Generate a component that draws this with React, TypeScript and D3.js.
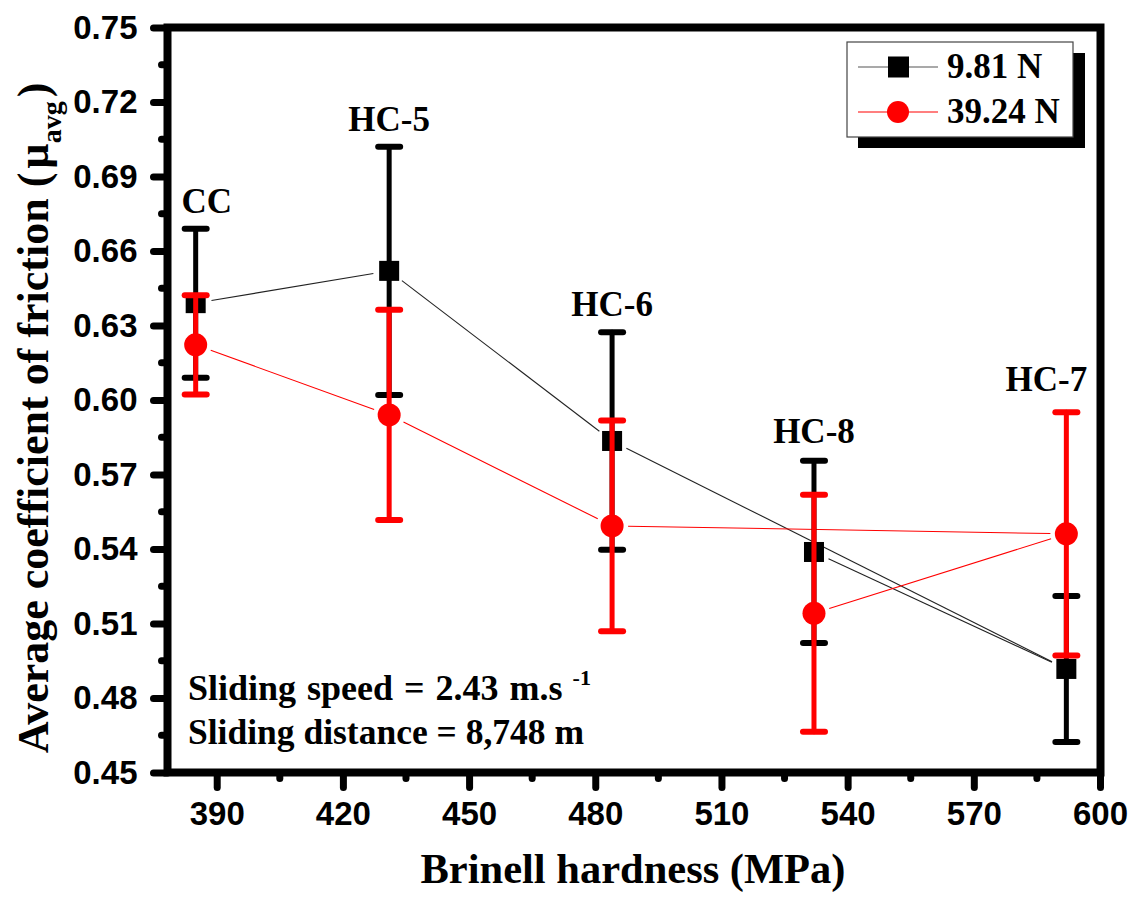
import React, { useEffect, useRef } from 'react';
import * as d3 from 'd3';

// sample order as in the source worksheet (lines follow this order)
const samples = ['CC', 'HC-5', 'HC-6', 'HC-7', 'HC-8'];
const hardness = [385, 431, 484, 592, 532];

// 9.81 N
const cofLow = [0.639, 0.652, 0.5835, 0.4917, 0.5388];
const errLow = [0.03, 0.05, 0.0438, 0.0294, 0.0367];

// 39.24 N
const cofHigh = [0.6222, 0.594, 0.5493, 0.5461, 0.5141];
const errHigh = [0.02, 0.0423, 0.0424, 0.049, 0.0477];

const yTicks = [0.45, 0.48, 0.51, 0.54, 0.57, 0.6, 0.63, 0.66, 0.69, 0.72, 0.75];
const yMinor = [0.465, 0.495, 0.525, 0.555, 0.585, 0.615, 0.645, 0.675, 0.705, 0.735];
const xTicks = [390, 420, 450, 480, 510, 540, 570, 600];
const xMinor = [405, 435, 465, 495, 525, 555, 585];

const legendLabels = ['9.81 N', '39.24 N'];

const SERIF = '"Liberation Serif", "Times New Roman", serif';
const SANS = '"Liberation Sans", Arial, sans-serif';

export default function App() {
  const ref = useRef<SVGSVGElement | null>(null);

  useEffect(() => {
    const svg = d3.select(ref.current);
    svg.selectAll('*').remove();

    const left = 167.5;
    const right = 1100.5;
    const top = 27.5;
    const bottom = 772.5;

    const x = d3.scaleLinear().domain([378.3, 600]).range([left, 1100]);
    const y = d3.scaleLinear().domain([0.45, 0.75]).range([bottom, top]);

    // axes
    const yAxis = svg
      .append('g')
      .attr('transform', `translate(${left},0)`)
      .call(d3.axisLeft(y).tickValues(yTicks).tickSize(14).tickPadding(16).tickFormat(d3.format('.2f')));
    yAxis.select('.domain').remove();
    yAxis.selectAll('line').attr('stroke-width', 7).attr('stroke-linecap', 'round');
    yAxis.selectAll('text').style('font-family', SANS).style('font-size', '33px').style('font-weight', 'bold').attr('fill', '#000');
    svg
      .append('g')
      .selectAll('line')
      .data(yMinor)
      .enter()
      .append('line')
      .attr('x1', left)
      .attr('x2', left - 6)
      .attr('y1', (d) => y(d))
      .attr('y2', (d) => y(d))
      .attr('stroke', '#000')
      .attr('stroke-width', 7)
      .attr('stroke-linecap', 'round');

    const xAxis = svg
      .append('g')
      .attr('transform', `translate(0,${bottom})`)
      .call(d3.axisBottom(x).tickValues(xTicks).tickSize(15).tickPadding(14).tickFormat(d3.format('d')));
    xAxis.select('.domain').remove();
    xAxis.selectAll('line').attr('stroke-width', 7).attr('stroke-linecap', 'round');
    xAxis.selectAll('text').style('font-family', SANS).style('font-size', '33px').style('font-weight', 'bold').attr('fill', '#000');
    svg
      .append('g')
      .selectAll('line')
      .data(xMinor)
      .enter()
      .append('line')
      .attr('x1', (d) => x(d))
      .attr('x2', (d) => x(d))
      .attr('y1', bottom)
      .attr('y2', bottom + 6)
      .attr('stroke', '#000')
      .attr('stroke-width', 7)
      .attr('stroke-linecap', 'round');

    // connecting lines with a gap around markers
    const gap = 16;
    const drawLine = (vals: number[], color: string) => {
      const pts = vals.map((v, i) => [x(hardness[i]), y(v)]);
      const segs = d3.pairs(pts);
      svg
        .append('g')
        .selectAll('line')
        .data(segs)
        .enter()
        .append('line')
        .each(function ([a, b]) {
          const dx = b[0] - a[0];
          const dy = b[1] - a[1];
          const len = Math.hypot(dx, dy);
          const ux = dx / len;
          const uy = dy / len;
          d3.select(this)
            .attr('x1', a[0] + ux * gap)
            .attr('y1', a[1] + uy * gap)
            .attr('x2', b[0] - ux * gap)
            .attr('y2', b[1] - uy * gap);
        })
        .attr('stroke', color)
        .attr('stroke-width', 1.1);
    };
    drawLine(cofLow, '#222');
    drawLine(cofHigh, '#ff0000');

    const drawErr = (vals: number[], errs: number[], color: string) => {
      const g = svg.append('g').attr('stroke', color).attr('stroke-linecap', 'round');
      vals.forEach((v, i) => {
        const cx = x(hardness[i]);
        g.append('line')
          .attr('x1', cx)
          .attr('x2', cx)
          .attr('y1', y(v + errs[i]))
          .attr('y2', y(v - errs[i]))
          .attr('stroke-width', 5);
        [v + errs[i], v - errs[i]].forEach((e) => {
          g.append('line')
            .attr('x1', cx - 11)
            .attr('x2', cx + 11)
            .attr('y1', y(e))
            .attr('y2', y(e))
            .attr('stroke-width', 6);
        });
      });
    };

    // 9.81 N
    drawErr(cofLow, errLow, '#000');
    svg
      .append('g')
      .selectAll('rect')
      .data(cofLow)
      .enter()
      .append('rect')
      .attr('x', (d, i) => x(hardness[i]) - 10)
      .attr('y', (d) => y(d) - 10)
      .attr('width', 20)
      .attr('height', 20)
      .attr('fill', '#000');

    // 39.24 N
    drawErr(cofHigh, errHigh, '#ff0000');
    svg
      .append('g')
      .selectAll('circle')
      .data(cofHigh)
      .enter()
      .append('circle')
      .attr('cx', (d, i) => x(hardness[i]))
      .attr('cy', (d) => y(d))
      .attr('r', 11.5)
      .attr('fill', '#ff0000');

    // sample labels (nudged the way they sit in the original)
    const nudge: Record<string, [number, number]> = { CC: [11, 0], 'HC-7': [-20, -5], 'HC-8': [0, -2] };
    svg
      .append('g')
      .selectAll('text')
      .data(samples)
      .enter()
      .append('text')
      .attr('x', (d, i) => x(hardness[i]) + (nudge[d] ? nudge[d][0] : 0))
      .attr('y', (d, i) => y(Math.max(cofLow[i] + errLow[i], cofHigh[i] + errHigh[i])) - 16 + (nudge[d] ? nudge[d][1] : 0))
      .attr('text-anchor', 'middle')
      .style('font-family', SERIF)
      .style('font-weight', 'bold')
      .style('font-size', '35px')
      .text((d) => d);

    // frame
    svg
      .append('rect')
      .attr('x', left)
      .attr('y', top)
      .attr('width', right - left)
      .attr('height', bottom - top)
      .attr('fill', 'none')
      .attr('stroke', '#000')
      .attr('stroke-width', 8);

    // legend
    const lg = svg.append('g');
    lg.append('rect').attr('x', 858).attr('y', 53).attr('width', 227).attr('height', 95).attr('fill', '#000');
    lg.append('rect')
      .attr('x', 847)
      .attr('y', 42)
      .attr('width', 226)
      .attr('height', 95)
      .attr('fill', '#fff')
      .attr('stroke', '#444')
      .attr('stroke-width', 1.2);
    legendLabels.forEach((label, i) => {
      const ly = 67 + i * 45;
      const color = i === 0 ? '#000' : '#ff0000';
      lg.append('line')
        .attr('x1', 858)
        .attr('x2', 938)
        .attr('y1', ly)
        .attr('y2', ly)
        .attr('stroke', i === 0 ? '#555' : '#ff0000')
        .attr('stroke-width', 1.1);
      if (i === 0) {
        lg.append('rect').attr('x', 888).attr('y', ly - 10.5).attr('width', 21).attr('height', 21).attr('fill', color);
      } else {
        lg.append('circle').attr('cx', 898).attr('cy', ly).attr('r', 11).attr('fill', color);
      }
      lg.append('text')
        .attr('x', 947)
        .attr('y', ly + 11)
        .style('font-family', SERIF)
        .style('font-weight', 'bold')
        .style('font-size', '35px')
        .text(label);
    });

    // conditions
    const note = svg
      .append('text')
      .attr('x', 188)
      .attr('y', 700)
      .style('font-family', SERIF)
      .style('font-weight', 'bold')
      .style('font-size', '36px')
      .style('word-spacing', '2px');
    note.append('tspan').text('Sliding speed = 2.43 m.s');
    note.append('tspan').attr('dx', 10).attr('dy', -15).style('font-size', '22px').text('-1');
    svg
      .append('text')
      .attr('x', 188)
      .attr('y', 744)
      .style('font-family', SERIF)
      .style('font-weight', 'bold')
      .style('font-size', '35.5px')
      .text('Sliding distance = 8,748 m');

    // axis titles
    svg
      .append('text')
      .attr('x', 633)
      .attr('y', 883)
      .attr('text-anchor', 'middle')
      .style('font-family', SERIF)
      .style('font-weight', 'bold')
      .style('font-size', '42.5px')
      .text('Brinell hardness (MPa)');

    const yt = svg
      .append('text')
      .attr('transform', 'translate(48,418) rotate(-90)')
      .attr('text-anchor', 'middle')
      .style('font-family', SERIF)
      .style('font-weight', 'bold')
      .style('font-size', '44px');
    yt.append('tspan').text('Average coefficient of friction (');
    yt.append('tspan').attr('dx', 4).text('\u00b5');
    yt.append('tspan').attr('dy', 13).style('font-size', '28px').text('avg');
    yt.append('tspan').attr('dx', 4).attr('dy', -13).text(')');
  }, []);

  return (
    <svg
      ref={ref}
      width={1133}
      height={901}
      style={{ position: 'absolute', left: 0, top: 0, background: '#fff' }}
    />
  );
}
